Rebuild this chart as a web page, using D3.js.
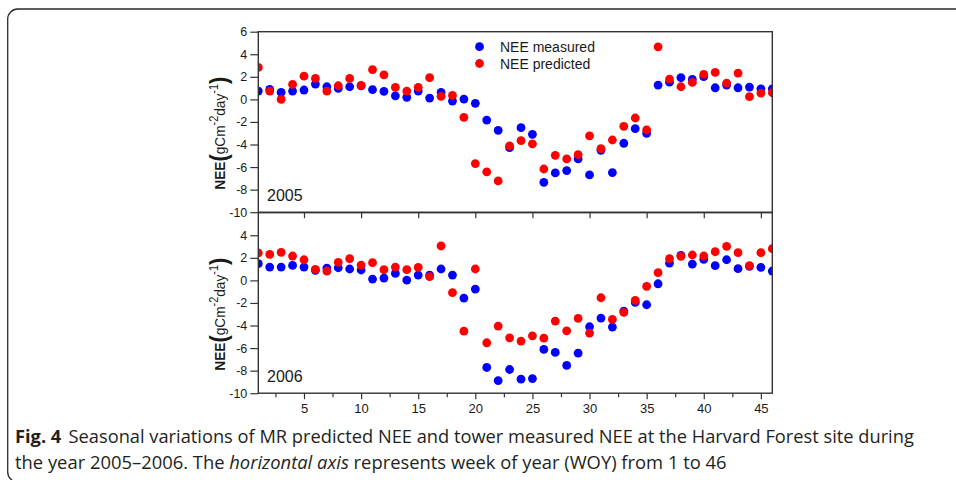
<!DOCTYPE html>
<html lang="en">
<head>
    <meta charset="UTF-8"/>
    <title>Fig. 4 NEE measured vs predicted</title>
    <script src="https://d3js.org/d3.v7.min.js"></script>
    <style>
        body { margin: 0; background: #fff; }
    </style>
</head>
<body>
<div id="chart"></div>

<script>
    var width = 956;
    var height = 480;

    // week of year
    var weeks = [1, 2, 3, 4, 5, 6, 7, 8, 9, 10, 11, 12, 13, 14, 15, 16, 17, 18, 19, 20, 21, 22, 23,
        24, 25, 26, 27, 28, 29, 30, 31, 32, 33, 34, 35, 36, 37, 38, 39, 40, 41, 42, 43, 44, 45, 46];

    var measured2005 = [0.74, 0.88, 0.62, 0.74, 0.83, 1.36, 1.12, 0.97, 1.12, 1.2, 0.86, 0.71, 0.32, 0.18, 0.74, 0.12,
        0.62, -0.15, 0.03, -0.35, -1.83, -2.74, -4.28, -2.51, -3.10, -7.35, -6.52, -6.31, -5.28, -6.70, -4.51,
        -6.49, -3.89, -2.60, -3.01, 1.27, 1.53, 1.92, 1.77, 2.01, 1.03, 1.27, 1.03, 1.09, 0.94, 0.94];
    var predicted2005 = [2.83, 0.74, 0.0, 1.33, 2.06, 1.86, 0.74, 1.21, 1.86, 1.24, 2.63, 2.18, 1.06, 0.74, 1.06, 1.92,
        0.27, 0.35, -1.59, -5.69, -6.43, -7.23, -4.13, -3.66, -3.95, -6.17, -4.96, -5.28, -4.90, -3.24, -4.37,
        -3.60, -2.39, -1.65, -2.71, 4.66, 1.80, 1.12, 1.50, 2.21, 2.39, 1.45, 2.33, 0.24, 0.56, 0.59];
    var measured2006 = [1.48, 1.18, 1.18, 1.33, 1.18, 0.89, 1.09, 1.12, 1.01, 0.92, 0.12, 0.21, 0.62, 0.03, 0.47, 0.47,
        1.01, 0.47, -1.57, -0.77, -7.72, -8.88, -7.90, -8.76, -8.70, -6.12, -6.39, -7.54, -6.45, -4.11, -3.34,
        -4.14, -2.72, -1.95, -2.16, -0.30, 1.54, 2.22, 1.45, 1.86, 1.30, 1.83, 1.04, 1.25, 1.15, 0.83];
    var predicted2006 = [2.43, 2.31, 2.49, 2.16, 1.83, 0.98, 0.83, 1.60, 1.92, 1.36, 1.57, 0.95, 1.18, 0.95, 1.15, 0.33,
        3.05, -1.09, -4.50, 1.01, -5.53, -4.05, -5.09, -5.38, -4.91, -5.12, -3.61, -4.47, -3.37, -4.67, -1.54,
        -3.46, -2.84, -1.78, -0.53, 0.68, 1.92, 2.13, 2.25, 2.16, 2.54, 3.02, 2.46, 1.30, 2.46, 2.81];

    var xTicks = [5, 10, 15, 20, 25, 30, 35, 40, 45];
    var xMinorTicks = [2.5, 7.5, 12.5, 17.5, 22.5, 27.5, 32.5, 37.5, 42.5];
    var yTicksTop = [-10, -8, -6, -4, -2, 0, 2, 4, 6];
    var yTicksBottom = [-10, -8, -6, -4, -2, 0, 2, 4];
    var years = ["2005", "2006"];
    var seriesNames = ["NEE measured", "NEE predicted"];
    var colors = ["#0000ff", "#ff0000"];

    var left = 258.3, right = 772.3;
    var panelTops = [31.7, 212.7];
    var panelH = 180.5;

    var xScale = d3.scaleLinear().domain([1, 46]).range([left, right]);

    var svg = d3.select("#chart").append("svg")
        .attr("width", width).attr("height", height);

    // figure frame
    svg.append("rect")
        .attr("x", 7.7).attr("y", 9)
        .attr("width", 1000).attr("height", 473)
        .attr("rx", 10)
        .attr("fill", "none").attr("stroke", "#2a2a2a").attr("stroke-width", 1.3);

    var panels = [
        {year: years[0], measured: measured2005, predicted: predicted2005, yTicks: yTicksTop},
        {year: years[1], measured: measured2006, predicted: predicted2006, yTicks: yTicksBottom}
    ];

    // plain hyphen for negatives, like the original
    var fmt = function (d) { return String(d); };

    panels.forEach(function (p, i) {
        var top = panelTops[i];
        var yScale = d3.scaleLinear().domain([-10, 6]).range([top + panelH, top]);
        var g = svg.append("g");

        g.append("clipPath").attr("id", "clip" + i)
            .append("rect")
            .attr("x", left).attr("y", top)
            .attr("width", right - left).attr("height", panelH);

        // y axis
        var yAxis = d3.axisLeft(yScale).tickValues(p.yTicks).tickFormat(fmt)
            .tickSize(8).tickPadding(3).tickSizeOuter(0);
        var ya = g.append("g").attr("transform", "translate(" + left + ",0)").call(yAxis);
        ya.select(".domain").remove();

        // x axis
        if (i === 1) {
            var xAxis = d3.axisBottom(xScale).tickValues(xTicks).tickFormat(fmt)
                .tickSize(6).tickPadding(5).tickSizeOuter(0);
            var xa = g.append("g").attr("transform", "translate(0," + (top + panelH) + ")").call(xAxis);
            xa.select(".domain").remove();
            xa.selectAll(".tick text").attr("font-size", 13);
            var xMinor = d3.axisBottom(xScale).tickValues(xMinorTicks).tickSize(4).tickFormat("").tickSizeOuter(0);
            var xm = g.append("g").attr("transform", "translate(0," + (top + panelH) + ")").call(xMinor);
            xm.select(".domain").remove();
        } else {
            var xAxisTop = d3.axisBottom(xScale).tickValues(xTicks).tickSize(6).tickFormat("").tickSizeOuter(0);
            var xt = g.append("g").attr("transform", "translate(0," + (top + panelH) + ")").call(xAxisTop);
            xt.select(".domain").remove();
        }

        g.selectAll(".tick line").attr("stroke", "#333").attr("stroke-width", 1.2);
        g.selectAll(".tick text")
            .attr("fill", "#1a1a1a")
            .style("font-family", "'Liberation Sans', Arial, sans-serif");
        ya.selectAll(".tick text").attr("font-size", 12.5);

        // points
        var dots = g.append("g").attr("clip-path", "url(#clip" + i + ")");
        [p.measured, p.predicted].forEach(function (vals, k) {
            dots.selectAll("circle.s" + k)
                .data(vals)
                .enter()
                .append("circle")
                .attr("class", "s" + k)
                .attr("cx", function (d, j) {
                    return xScale(weeks[j]);
                })
                .attr("cy", function (d) {
                    return yScale(d);
                })
                .attr("r", 4.4)
                .attr("fill", colors[k]);
        });

        // panel frame
        g.append("rect")
            .attr("x", left).attr("y", top)
            .attr("width", right - left).attr("height", panelH)
            .attr("fill", "none").attr("stroke", "#333").attr("stroke-width", 1.4);

        // year text
        g.append("text")
            .attr("x", 267).attr("y", top + panelH - 11)
            .attr("font-size", 16)
            .attr("fill", "#1a1a1a")
            .style("font-family", "'Liberation Sans', Arial, sans-serif")
            .text(p.year);

        // y label, rotated, squeezed to fit
        var lab = g.append("text")
            .attr("fill", "#1a1a1a")
            .style("font-family", "'Liberation Sans', Arial, sans-serif")
            .attr("font-size", 15);
        lab.append("tspan").attr("font-weight", "bold").text("NEE");
        lab.append("tspan").attr("font-size", 24).attr("dy", 2).attr("font-weight", "bold").text("(");
        lab.append("tspan").attr("dy", -2).text("gCm");
        lab.append("tspan").attr("font-size", 12).attr("dy", -7).text("-2");
        lab.append("tspan").attr("dy", 7).text("day");
        lab.append("tspan").attr("font-size", 12).attr("dy", -7).text("-1");
        lab.append("tspan").attr("font-size", 24).attr("dy", 9).attr("font-weight", "bold").text(")");
        var len = lab.node().getComputedTextLength();
        var sx = 113 / len;
        lab.attr("transform", "translate(225," + (yScale(-8)) + ") rotate(-90) scale(" + sx + ",1)");
    });

    // legend
    var legend = svg.append("g");
    seriesNames.forEach(function (name, k) {
        var ly = 46.7 + k * 16.8;
        legend.append("circle").attr("cx", 479.5).attr("cy", ly).attr("r", 4.4).attr("fill", colors[k]);
        legend.append("text")
            .attr("x", 500).attr("y", ly + 5)
            .attr("font-size", 14)
            .attr("fill", "#1a1a1a")
            .style("font-family", "'Liberation Sans', Arial, sans-serif")
            .text(name);
    });

    // caption
    function fitText(t, x, target) {
        var w = t.node().getBBox().width;
        t.attr("transform", "translate(" + x + ",0) scale(" + (target / w) + ",1)");
    }

    var cap1 = svg.append("text")
        .attr("y", 443)
        .attr("font-size", 17.5)
        .attr("fill", "#231f20")
        .style("font-family", "'Open Sans', 'Noto Sans', sans-serif");
    cap1.append("tspan").attr("font-weight", "bold").text("Fig. 4");
    cap1.append("tspan").attr("dx", 7)
        .text("Seasonal variations of MR predicted NEE and tower measured NEE at the Harvard Forest site during");
    fitText(cap1, 15, 900);

    var cap2 = svg.append("text")
        .attr("y", 469)
        .attr("font-size", 17.5)
        .attr("fill", "#231f20")
        .style("font-family", "'Open Sans', 'Noto Sans', sans-serif");
    cap2.append("tspan").text("the year 2005\u20132006. The ");
    cap2.append("tspan").attr("font-style", "italic").text("horizontal axis");
    cap2.append("tspan").text(" represents week of year (WOY) from 1 to 46");
    fitText(cap2, 15, 712);

</script>
</body>
</html>
